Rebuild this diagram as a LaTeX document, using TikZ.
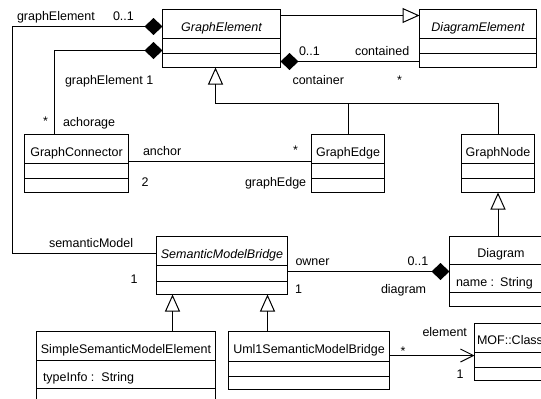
\documentclass[tikz,border=0pt]{standalone}
\usepackage{fontspec}
\setmainfont{Liberation Sans}
\usetikzlibrary{arrows.meta}

% A UML class: name, west x, north y, width, height, first divider, second divider
\newcommand\umlclass[7]{%
  \node[classbox, minimum width=#4pt, minimum height=#5pt] (#1) at (#2,#3) {};
  \draw[line] ([yshift=-#6pt]#1.north west) -- ([yshift=-#6pt]#1.north east);
  \draw[line] ([yshift=-#7pt]#1.north west) -- ([yshift=-#7pt]#1.north east);
}

\begin{document}
\begin{tikzpicture}[x=1pt, y=-1pt,
  line/.style={line width=1pt},
  classbox/.style={draw, line width=1pt, rectangle, anchor=north west,
    inner sep=0pt, outer sep=0pt, fill=white},
  txt/.style={font=\fontsize{12.5}{14}\selectfont, inner sep=0pt, outer sep=0pt},
  cname/.style={txt, anchor=base},
  lbl/.style={txt, anchor=base west},
  gen/.style={line, -{Triangle[open, length=17pt, width=15pt, line width=1pt]}},
  comp/.style={line, {Diamond[length=18pt, width=17pt]}-},
  nav/.style={line, -{Straight Barb[length=13pt, width=13pt, line width=1pt]}}
]
\useasboundingbox (0,0) rectangle (541,399);
\fill[white] (0,0) rectangle (541,399);

\begin{scope}[shift={(0.5,0.5)}]
% classes
\umlclass{GE}{162}{9}{118}{58}{29}{44}
\node[cname] (GE-t) at (221,31) {\itshape GraphElement};
\umlclass{DE}{419}{9}{117}{58}{29}{44}
\node[cname] (DE-t) at (477.5,31) {\itshape DiagramElement};
\umlclass{GC}{24}{134}{104}{58}{29}{44}
\node[cname] (GC-t) at (76,156) {GraphConnector};
\umlclass{GEdge}{311}{134}{73}{58}{29}{44}
\node[cname] (GEdge-t) at (347.5,156) {GraphEdge};
\umlclass{GN}{461}{134}{73}{58}{29}{44}
\node[cname] (GN-t) at (497.5,156) {GraphNode};
\umlclass{Dg}{449}{236}{103}{70}{28}{56}
\node[cname] (Dg-t) at (500.5,257) {Diagram};
\node[lbl] (Dg-a) at (455.5,285.5) {name :\hspace{6pt}String};
\umlclass{SMB}{156}{236}{131}{58}{29}{45}
\node[cname] (SMB-t) at (221.5,257.5) {\itshape SemanticModelBridge};
\umlclass{SSME}{36}{331}{179}{79}{29}{57}
\node[cname] (SSME-t) at (125.5,353) {SimpleSemanticModelElement};
\node[lbl] (SSME-a) at (42.5,380.5) {typeInfo :\hspace{7pt}String};
\umlclass{U1}{228}{331}{161}{58}{30}{45}
\node[cname] (U1-t) at (308.5,352.5) {Uml1SemanticModelBridge};
\umlclass{MOF}{474}{323}{72}{57}{29}{44}
\node[lbl] (MOF-t) at (476.5,343.5) {MOF::Class};

% generalizations
\draw[gen] ([yshift=-6pt]GE.north east) -- ([yshift=-6pt]DE.north west);
\coordinate (tb) at (215,103);
\draw[gen] (GN.north) |- (tb) -- (tb |- GE.south);
\draw[line] (GEdge.north) -- (GEdge.north |- tb);
\draw[gen] (Dg.north -| GN.south) -- (GN.south);
\draw[gen] ([xshift=136pt]SSME.north west) coordinate (g1) -- (g1 |- SMB.south);
\draw[gen] ([xshift=39pt]U1.north west) coordinate (g2) -- (g2 |- SMB.south);

% compositions
\draw[comp] ([yshift=6pt]GE.south east) -- ([yshift=6pt]DE.south west);
\draw[comp] ([yshift=-17pt]GE.north west) -- (12,26) |- ([yshift=-17pt]SMB.north west);
\draw[comp] ([yshift=-41pt]GE.north west) -| ([xshift=30pt]GC.north west);
\draw[comp] ([yshift=-35pt]Dg.north west) -- ([yshift=-35pt]SMB.north east);

% associations
\draw[line] ([yshift=-27pt]GC.north east) -- ([yshift=-27pt]GEdge.north west);
\draw[nav] ([yshift=-24pt]U1.north east) -- ([yshift=-32pt]MOF.north west);
\end{scope}

% association end labels
\node[lbl] (l1) at (17,20) {graphElement};
\node[lbl] (l2) at (113,20) {0..1};
\node[lbl] (l3) at (65,84) {graphElement 1};
\node[lbl] (l4) at (43,125) {*};
\node[lbl] (l5) at (63,126) {achorage};
\node[lbl] (l6) at (299,55) {0..1};
\node[lbl] (l7) at (355,55) {contained};
\node[lbl] (l8) at (292.5,84.5) {container};
\node[lbl] (l9) at (397,84) {*};
\node[lbl] (l10) at (143,155) {anchor};
\node[lbl] (l11) at (293,154) {*};
\node[lbl] (l12) at (141.5,186) {2};
\node[lbl] (l13) at (245,186) {graphEdge};
\node[lbl] (l14) at (49,247) {semanticModel};
\node[lbl] (l15) at (130.5,283) {1};
\node[lbl] (l16) at (295.5,265) {owner};
\node[lbl] (l17) at (407.5,265) {0..1};
\node[lbl] (l18) at (295,293) {1};
\node[lbl] (l19) at (381,293.5) {diagram};
\node[lbl] (l20) at (422.5,336) {element};
\node[lbl] (l21) at (400.5,355) {*};
\node[lbl] (l22) at (456.5,378.5) {1};
\end{tikzpicture}
\end{document}
